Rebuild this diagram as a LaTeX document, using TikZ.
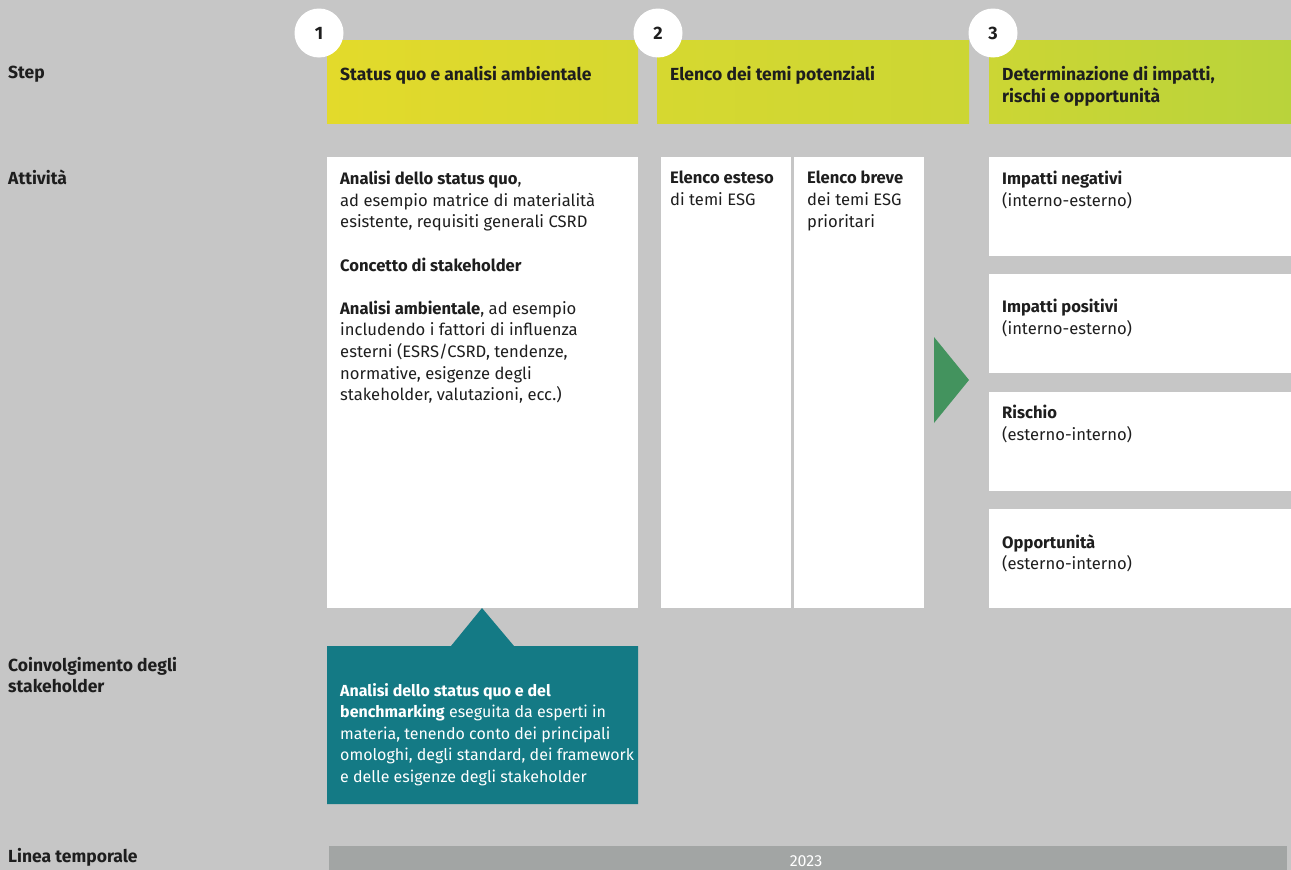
\documentclass[tikz,border=0pt]{standalone}
\usepackage{fontspec}
\setmainfont{Fira Sans}
\newfontfamily\headfont{Fira Sans}
\definecolor{bg}{HTML}{C6C6C6}
\definecolor{yA}{HTML}{E3DA2B}
\definecolor{yB}{HTML}{D6D830}
\definecolor{yC}{HTML}{CCD634}
\definecolor{yD}{HTML}{B9D33B}
\definecolor{teal}{HTML}{147A85}
\definecolor{arrowgreen}{HTML}{43935E}
\definecolor{barcol}{HTML}{A2A5A4}
\definecolor{txt}{HTML}{1E1E1E}
\begin{document}
\begin{tikzpicture}[x=1pt,y=-1pt,
  rowlabel/.style={anchor=north west,inner sep=0pt,font=\fontsize{17.5}{21}\selectfont\headfont\bfseries,text=txt,align=left},
  stephead/.style={anchor=north west,inner sep=0pt,font=\fontsize{17.5}{22}\selectfont\headfont\bfseries,text=txt,align=left},
  body/.style={anchor=north west,inner sep=0pt,font=\fontsize{16.6}{21.6}\selectfont,text=txt,align=left},
  whitebox/.style={fill=white,draw=none},
  numcircle/.style={circle,fill=white,minimum size=49pt,inner sep=0pt,font=\fontsize{18}{18}\selectfont\headfont\bfseries,text=txt}
]
\useasboundingbox (0,0) rectangle (1291,870);
\fill[bg] (0,0) rectangle (1291,870);

% row labels
\node[rowlabel] (lstep) at (8,66) {Step};
\node[rowlabel] (latt) at (8,170) {Attività};
\node[rowlabel] (lcoin) at (8,657) {Coinvolgimento degli\\stakeholder};
\node[rowlabel] (llin) at (8,848) {Linea temporale};

% step boxes
\shade[left color=yA,right color=yB] (327,40) rectangle (638,123);
\shade[left color=yB,right color=yC] (657,40) rectangle (969,123);
\shade[left color=yC,right color=yD] (989,40) rectangle (1291,123);
\node[stephead] (s1) at (340,66) {Status quo e analisi ambientale};
\node[stephead] (s2) at (670,66) {Elenco dei temi potenziali};
\node[stephead] (s3) at (1002,66) {Determinazione di impatti,\\rischi e opportunità};
\node[numcircle] (c1) at (319,33) {1};
\node[numcircle] (c2) at (658,33) {2};
\node[numcircle] (c3) at (993,33) {3};

% activity boxes
\fill[whitebox] (327,157) rectangle (638,608);
\fill[whitebox] (661,157) rectangle (791,608);
\fill[whitebox] (794,157) rectangle (924,608);
\fill[whitebox] (989,157) rectangle (1291,256);
\fill[whitebox] (989,274) rectangle (1291,373);
\fill[whitebox] (989,392) rectangle (1291,491);
\fill[whitebox] (989,509) rectangle (1291,608);

\node[body] (a1) at (340,171) {\textbf{Analisi dello status quo},\\ad esempio matrice di materialità\\esistente, requisiti generali CSRD\\[21.6pt]\textbf{Concetto di stakeholder}\\[21.6pt]\textbf{Analisi ambientale}, ad esempio\\includendo i fattori di influenza\\esterni (ESRS/CSRD, tendenze,\\normative, esigenze degli\\stakeholder, valutazioni, ecc.)};
\node[body] (b1) at (670,171) {\textbf{Elenco esteso}\\di temi ESG};
\node[body] (b2) at (807,171) {\textbf{Elenco breve}\\dei temi ESG\\prioritari};
\node[body] (d1) at (1002,171) {\textbf{Impatti negativi}\\(interno-esterno)};
\node[body] (d2) at (1002,299) {\textbf{Impatti positivi}\\(interno-esterno)};
\node[body] (d3) at (1002,405) {\textbf{Rischio}\\(esterno-interno)};
\node[body] (d4) at (1002,534) {\textbf{Opportunità}\\(esterno-interno)};

% green arrow
\fill[arrowgreen] (934,337) -- (969,380) -- (934,423) -- cycle;

% teal callout
\fill[teal] (327,646) -- (451,646) -- (482,608) -- (514,646) -- (638,646) -- (638,804) -- (327,804) -- cycle;
\node[body,text=white,font=\fontsize{16}{21.6}\selectfont] (t1) at (340,683) {\textbf{Analisi dello status quo e del}\\\textbf{benchmarking} eseguita da esperti in\\materia, tenendo conto dei principali\\omologhi, degli standard, dei framework\\e delle esigenze degli stakeholder};

% timeline
\fill[barcol] (329,846) rectangle (1287,870);
\node[font=\fontsize{16}{16}\selectfont,text=white,inner sep=0pt] (yr) at (806,861) {2023};
\end{tikzpicture}
\end{document}
